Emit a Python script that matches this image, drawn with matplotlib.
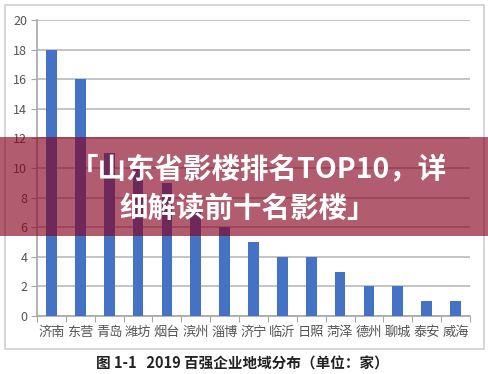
import matplotlib
matplotlib.use("Agg")
import matplotlib.pyplot as plt
from matplotlib.patches import Rectangle

plt.rcParams['font.family'] = ['Noto Sans CJK SC', 'DejaVu Sans']

# data
cities = ["济南", "东营", "青岛", "潍坊", "烟台", "滨州", "淄博", "济宁",
          "临沂", "日照", "菏泽", "德州", "聊城", "泰安", "威海"]
counts = [18, 16, 11, 10, 9, 7, 6, 5, 4, 4, 3, 2, 2, 1, 1]
yticks = [0, 2, 4, 6, 8, 10, 12, 14, 16, 18, 20]

W, H = 489, 374
fig = plt.figure(figsize=(W / 100, H / 100), dpi=100)
fig.patch.set_facecolor("white")

# outer frame of the chart
fig.patches.append(Rectangle((5 / W, 1 - 349 / H), 479 / W, 344 / H,
                             transform=fig.transFigure, fill=False,
                             edgecolor="#d0d0d0", linewidth=1.2))

ax = fig.add_axes([37 / W, 1 - 316 / H, 433 / W, 296 / H])
x = range(len(cities))
ax.bar(x, counts, width=0.37, color="#4472c4", zorder=3)
ax.set_xlim(-0.5, len(cities) - 0.5)
ax.set_ylim(0, 20)
ax.set_yticks(yticks)
ax.yaxis.grid(True, color="#c4c4c4", linewidth=1.4, zorder=0)
for s in ["top", "right"]:
    ax.spines[s].set_visible(False)
ax.spines["left"].set_color("#a6a6a6")
ax.spines["bottom"].set_color("#a6a6a6")
ax.spines["left"].set_linewidth(1.2)
ax.spines["bottom"].set_linewidth(1.2)

ax.set_xticks([i - 0.5 for i in range(len(cities) + 1)])
ax.set_xticklabels([])
ax.set_xticks(list(x), minor=True)
ax.set_xticklabels(cities, minor=True, fontsize=9.5, color="#555555")
ax.tick_params(axis="x", which="major", length=4, color="#a6a6a6", direction="out")
ax.tick_params(axis="x", which="minor", length=0, pad=7)
ax.tick_params(axis="y", length=4, color="#a6a6a6", labelsize=9,
               labelcolor="#555555", pad=3)

# caption
fig.text(242 / W, 1 - 364 / H, "图 1-1   2019 百强企业地域分布（单位：家）",
         ha="center", va="center", fontsize=10.5, fontweight="bold", color="#222222")

# red banner overlay
fig.patches.append(Rectangle((0, 1 - 236 / H), 1, 99 / H,
                             transform=fig.transFigure, facecolor=(134 / 255, 0, 30 / 255),
                             alpha=0.64, edgecolor="none", zorder=10))
fig.text(258 / W, 1 - 170 / H, "「山东省影楼排名TOP10，详", ha="center", va="center",
         fontsize=20.5, fontweight="bold", color="white", zorder=11)
fig.text(248 / W, 1 - 209 / H, "细解读前十名影楼」", ha="center", va="center",
         fontsize=20.5, fontweight="bold", color="white", zorder=11)

fig.savefig("out.png", dpi=100)
